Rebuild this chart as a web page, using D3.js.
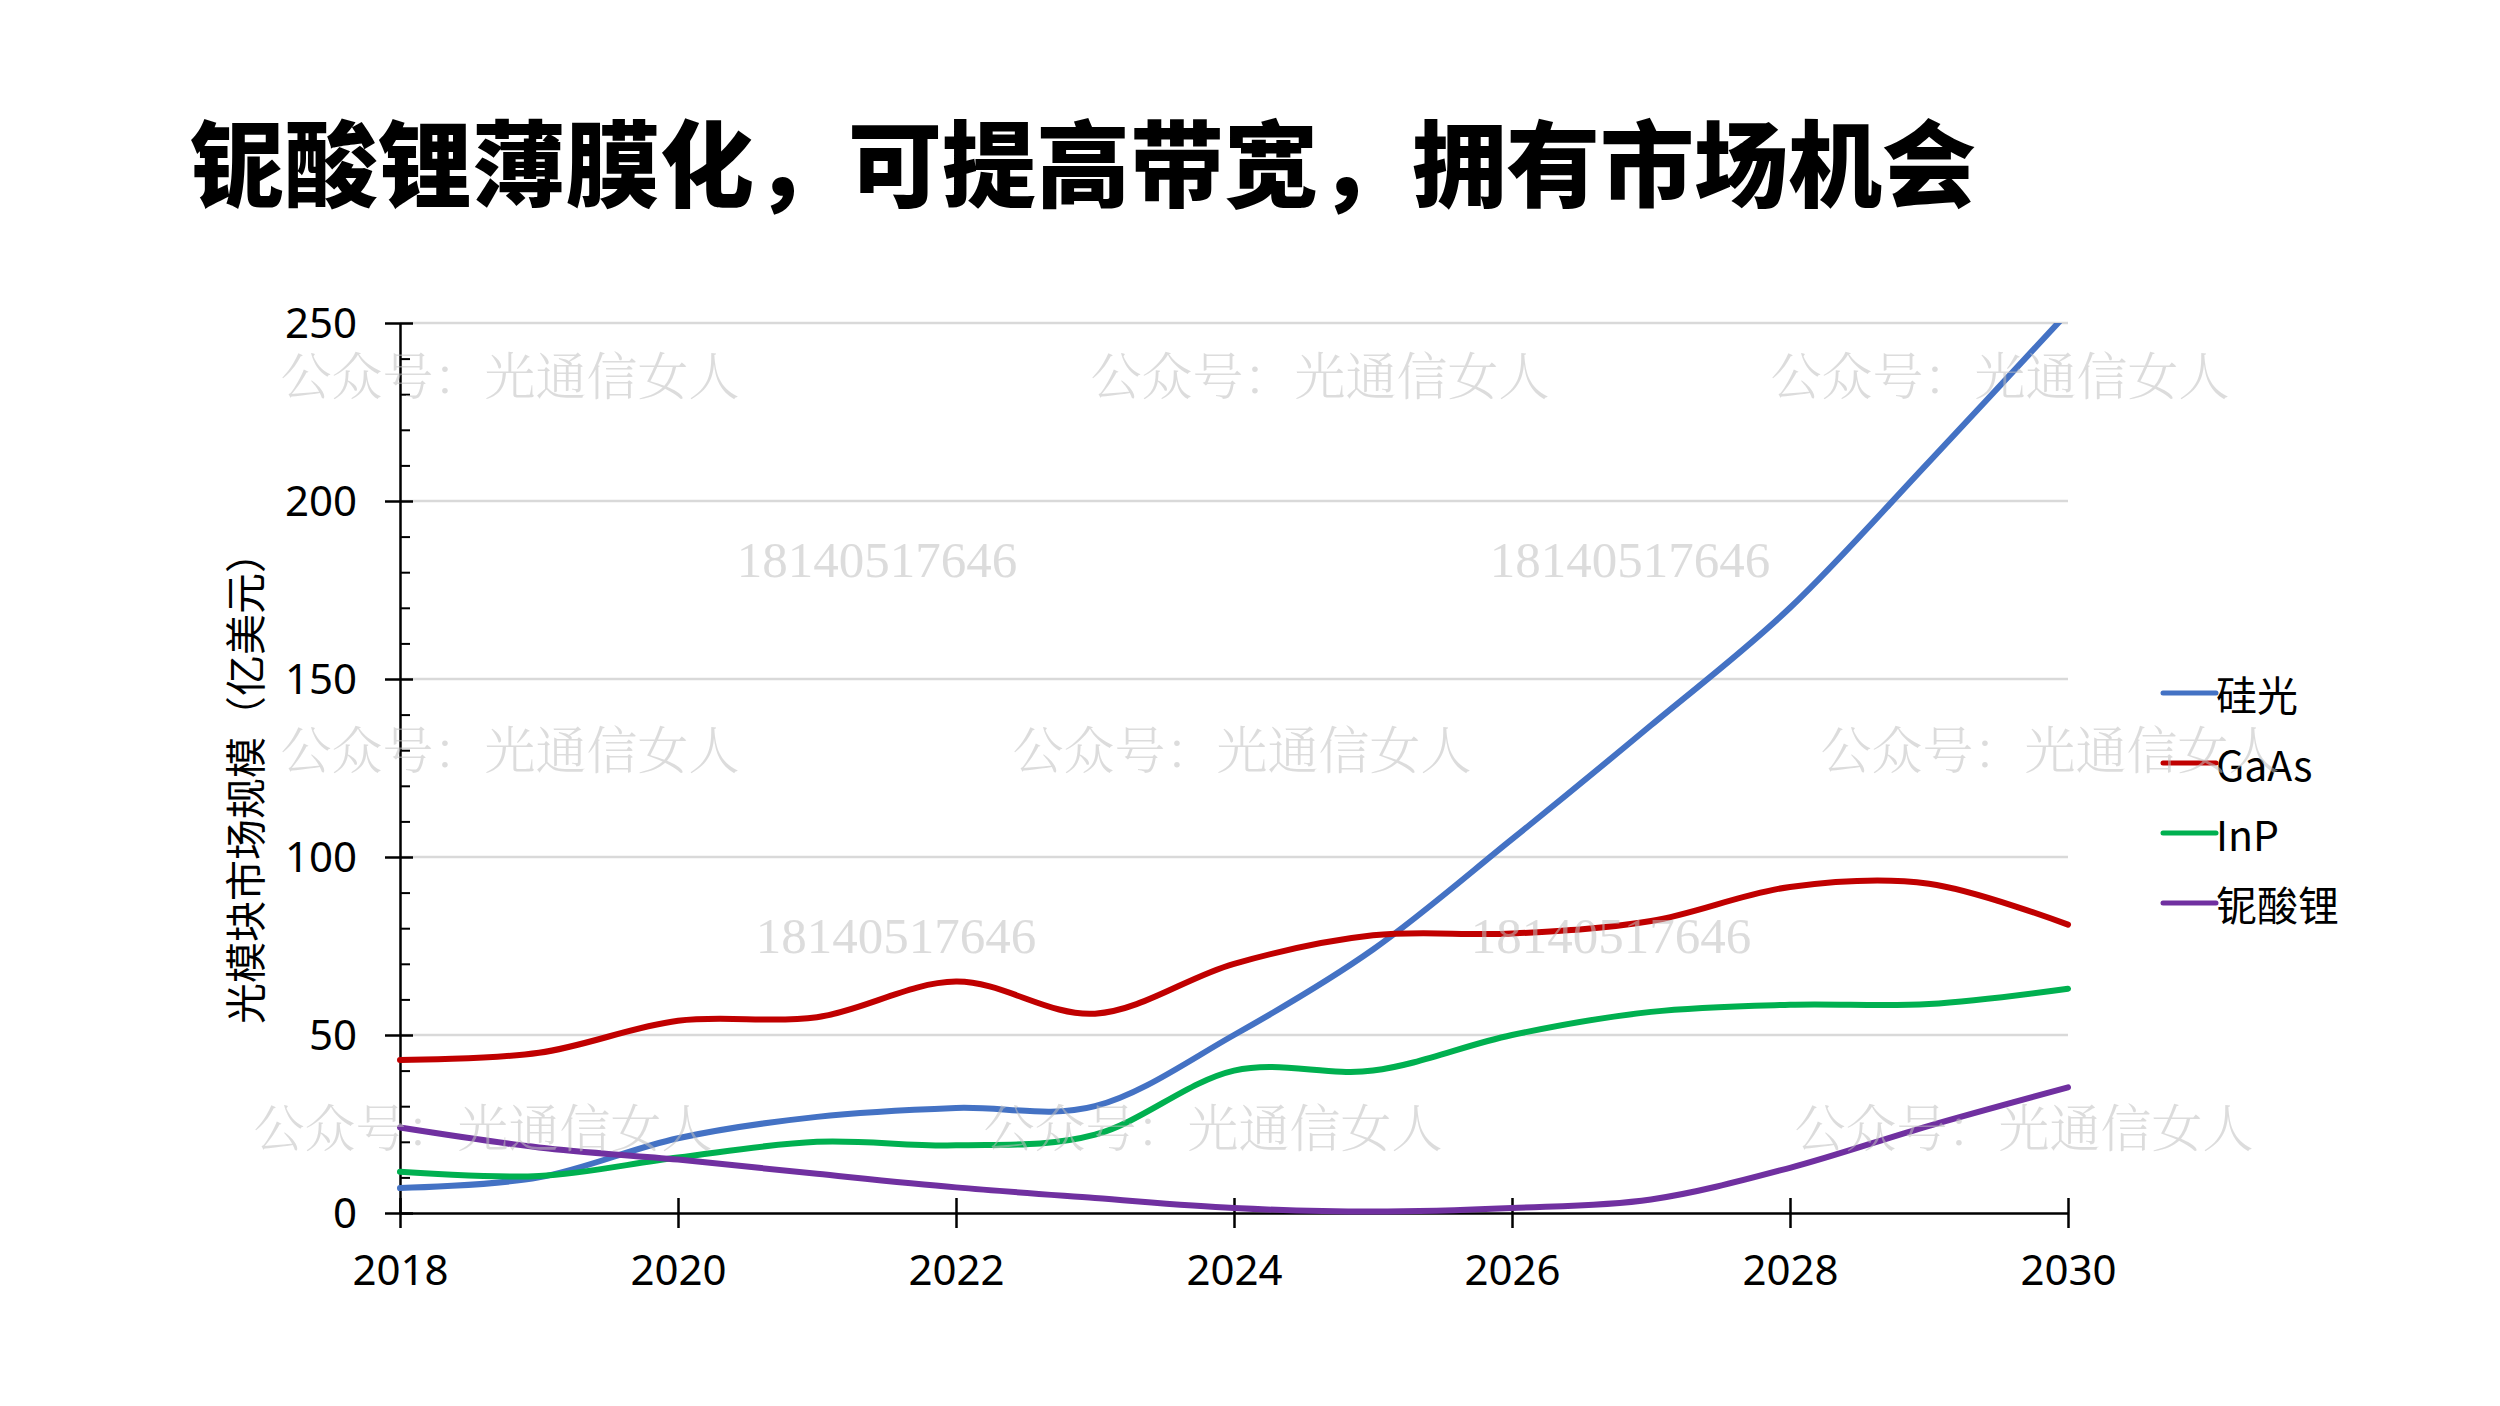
<!DOCTYPE html>
<html>
<head>
<meta charset="utf-8">
<script src="https://cdn.jsdelivr.net/npm/d3@7"></script>
<style>
  body { margin: 0; background: #fff; }
  svg { display: block; }
</style>
</head>
<body>
<script>
// 数据：光模块市场规模（亿美元）
const years = [2018, 2019, 2020, 2021, 2022, 2023, 2024, 2025, 2026, 2027, 2028, 2029, 2030]
const siPhotonics = [7, 10, 21, 27, 29.5, 30, 50, 74, 105, 137, 170, 211, 253]
const gaAs = [43, 45, 54, 55, 65, 56, 70, 78, 78.5, 82, 91.6, 92.5, 81]
const inP = [11.6, 10.4, 15.6, 20, 19, 22, 40, 40, 50, 56.5, 58.5, 58.7, 63]
const lnbo = [24, 18.4, 15, 11, 7.2, 4.2, 1.4, 0.4, 1.4, 3.8, 12.7, 24.5, 35.3]

const seriesNames = ['硅光', 'GaAs', 'InP', '铌酸锂']
const seriesValues = [siPhotonics, gaAs, inP, lnbo]
const seriesColors = ['#4472C4', '#C00000', '#00B050', '#7030A0']

const yMajorTicks = [0, 50, 100, 150, 200, 250]
const xTickYears = [2018, 2020, 2022, 2024, 2026, 2028, 2030]

const titleText = '铌酸锂薄膜化，可提高带宽，拥有市场机会'
const yTitle = '光模块市场规模（亿美元）'
const markText = '公众号：光通信女人'
const phoneText = '18140517646'

const W = 2500, H = 1406
const plot = { left: 400, right: 2068, top: 323, bottom: 1213 }

const svg = d3.select('body').append('svg')
  .attr('width', W)
  .attr('height', H)

const x = d3.scaleLinear().domain([2018, 2030]).range([plot.left, plot.right])
const y = d3.scaleLinear().domain([0, 250]).range([plot.bottom, plot.top])

// 标题
svg.append('text')
  .attr('x', 190)
  .attr('y', 159)
  .attr('dominant-baseline', 'central')
  .style('font-family', '"Noto Sans CJK SC"')
  .style('font-weight', 900)
  .style('font-size', '94px')
  .text(titleText)

// 网格线
svg.append('g')
  .selectAll('line')
  .data(yMajorTicks.filter(d => d > 0))
  .enter()
  .append('line')
  .attr('x1', plot.left)
  .attr('x2', plot.right)
  .attr('y1', d => y(d))
  .attr('y2', d => y(d))
  .attr('stroke', '#d9d9d9')
  .attr('stroke-width', 2.5)

// y 轴次刻度
let yMinor = d3.range(0, 251, 10).filter(d => d % 50 !== 0)
let gMinor = svg.append('g')
  .attr('transform', 'translate(' + plot.left + ',0)')
  .call(d3.axisLeft(y).tickValues(yMinor).tickSize(-10).tickFormat(''))
gMinor.select('.domain').remove()
gMinor.selectAll('.tick line').attr('stroke', '#000').attr('stroke-width', 2)

// y 轴
let gy = svg.append('g')
  .attr('transform', 'translate(' + plot.left + ',0)')
  .call(d3.axisLeft(y).tickValues(yMajorTicks).tickSize(15).tickSizeOuter(0))
gy.select('.domain').attr('stroke', '#000').attr('stroke-width', 2.5)
gy.selectAll('.tick line').attr('x1', 13).attr('stroke-width', 2.5)
gy.selectAll('.tick text')
  .attr('x', -43)
  .attr('dy', '0.35em')
  .style('font-family', '"Noto Sans", "Open Sans", sans-serif')
  .style('font-size', '42px')
  .attr('fill', '#000')

// x 轴
let gx = svg.append('g')
  .attr('transform', 'translate(0,' + plot.bottom + ')')
  .call(d3.axisBottom(x).tickValues(xTickYears).tickSize(15).tickSizeOuter(0).tickFormat(d3.format('d')))
gx.select('.domain').attr('stroke', '#000').attr('stroke-width', 2.5)
gx.selectAll('.tick line').attr('y1', -15).attr('stroke-width', 2.5)
gx.selectAll('.tick text')
  .attr('y', 57)
  .attr('dy', '0.35em')
  .style('font-family', '"Noto Sans", "Open Sans", sans-serif')
  .style('font-size', '42px')
  .attr('fill', '#000')

// y 轴标题
svg.append('text')
  .attr('transform', 'translate(243,778) rotate(-90)')
  .attr('text-anchor', 'middle')
  .attr('dominant-baseline', 'central')
  .style('font-family', '"Noto Sans CJK SC"')
  .style('font-size', '41px')
  .text(yTitle)

// 折线
svg.append('clipPath').attr('id', 'clip')
  .append('rect')
  .attr('x', plot.left - 5)
  .attr('y', plot.top)
  .attr('width', plot.right - plot.left + 10)
  .attr('height', plot.bottom - plot.top + 10)

let line = d3.line()
  .x((d, i) => x(years[i]))
  .y(d => y(d))
  .curve(d3.curveCardinal.tension(0))

svg.append('g')
  .attr('clip-path', 'url(#clip)')
  .selectAll('path')
  .data(seriesValues)
  .enter()
  .append('path')
  .attr('d', d => line(d))
  .attr('fill', 'none')
  .attr('stroke', (d, i) => seriesColors[i])
  .attr('stroke-width', 6)
  .attr('stroke-linecap', 'round')
  .attr('stroke-linejoin', 'round')

// 图例
let legend = svg.append('g')
  .selectAll('g')
  .data(seriesNames)
  .enter()
  .append('g')
  .attr('transform', (d, i) => 'translate(2163,' + (693 + i * 70) + ')')

legend.append('line')
  .attr('x1', 0)
  .attr('x2', 53)
  .attr('stroke', (d, i) => seriesColors[i])
  .attr('stroke-width', 5)
  .attr('stroke-linecap', 'round')

legend.append('text')
  .attr('x', 53)
  .attr('dominant-baseline', 'central')
  .style('font-family', '"Noto Sans CJK SC"')
  .style('font-size', '41px')
  .text(d => d)

// 水印
const markPos = [[510, 373], [1320, 373], [2000, 373], [510, 747], [1242, 747], [2050, 747], [483, 1125], [1213, 1125], [2024, 1125]]
const phonePos = [[877, 560], [1630, 560], [896, 936], [1611, 936]]

let marks = svg.append('g').style('pointer-events', 'none')
marks.selectAll('text.mark')
  .data(markPos)
  .enter()
  .append('text')
  .attr('class', 'mark')
  .attr('x', d => d[0])
  .attr('y', d => d[1])
  .attr('text-anchor', 'middle')
  .attr('dominant-baseline', 'central')
  .style('font-family', '"Noto Serif CJK SC", "Noto Sans CJK SC"')
  .style('font-weight', 300)
  .style('font-size', '51px')
  .attr('fill', '#bfbfbf')
  .attr('fill-opacity', 0.55)
  .text(markText)

marks.selectAll('text.phone')
  .data(phonePos)
  .enter()
  .append('text')
  .attr('class', 'phone')
  .attr('x', d => d[0])
  .attr('y', d => d[1])
  .attr('text-anchor', 'middle')
  .attr('dominant-baseline', 'central')
  .style('font-family', '"Liberation Serif", serif')
  .style('font-size', '51px')
  .attr('fill', '#bfbfbf')
  .attr('fill-opacity', 0.55)
  .text(phoneText)
</script>
</body>
</html>
